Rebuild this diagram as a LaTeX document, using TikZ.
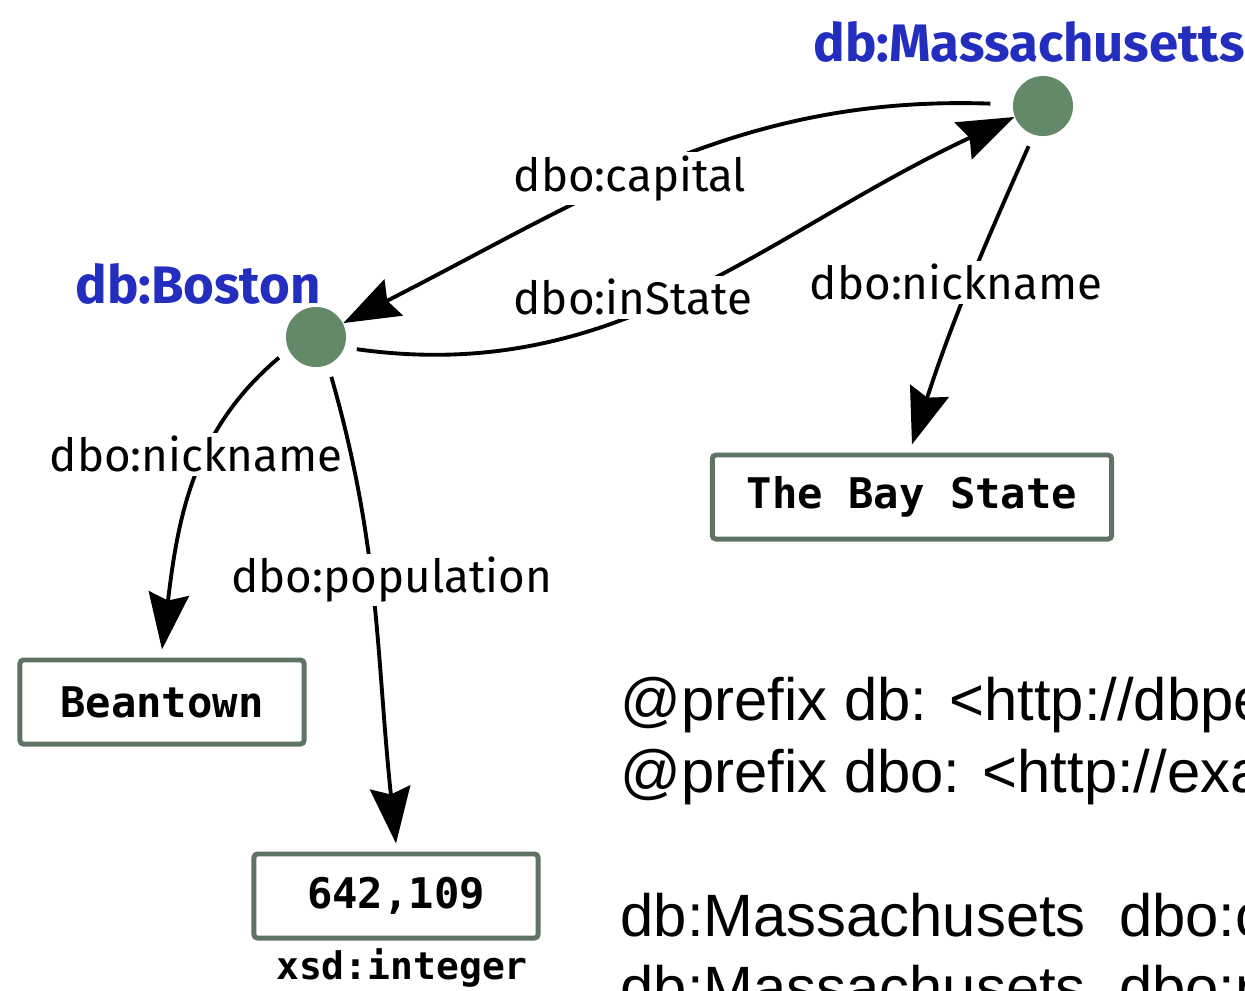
\documentclass[tikz,border=0pt]{standalone}
\usepackage{fontspec}
\usepackage{xcolor}
\usetikzlibrary{arrows.meta}
\newfontfamily\lblfont{Fira Sans}
\newfontfamily\boxfont{DejaVu Sans Mono}
\newfontfamily\txtfont{Liberation Sans}
\definecolor{dotgreen}{RGB}{99,137,104}
\definecolor{uriblue}{RGB}{35,45,190}
\definecolor{boxgray}{RGB}{95,115,100}

\begin{document}
\begin{tikzpicture}[x=0.01cm, y=0.01cm,
		res/.style={circle, fill=dotgreen, minimum size=0.6cm, inner sep=0pt},
		uri/.style={text=uriblue, font=\lblfont\bfseries\fontsize{15}{18}\selectfont},
		lit/.style={draw=boxgray, line width=1.4pt, rounded corners=1pt, fill=white,
			font=\boxfont\bfseries\fontsize{12}{14}\selectfont, inner sep=0pt,
			minimum height=0.84cm, outer sep=3pt},
		lbl/.style={fill=white, font=\lblfont\fontsize{13}{15}\selectfont, inner sep=1pt},
		rel/.style={-{Stealth[length=16pt, width=11.5pt, inset=2pt]}, line width=1.1pt, shorten <=0.12cm},
		ttl/.style={anchor=base west, font=\txtfont\fontsize{17}{20}\selectfont, inner sep=0pt}]
		\useasboundingbox (0,0) rectangle (1245,-990);
		\clip (0,0) rectangle (1245,-990);

		% resources
		\node[res] (boston) at (316,-337) {};
		\node[res] (mass) at (1043,-106) {};
		\node[uri] (bostonname) at (198,-284) {db:Boston};
		\node[uri] (massname) at (1029,-42) {db:Massachusetts};

		% literals
		\node[lit, minimum width=2.84cm] (bean) at (162,-702) {Beantown};
		\node[lit, minimum width=3.99cm] (bay) at (912,-497) {The Bay State};
		\node[lit, minimum width=2.84cm] (pop) at (396,-896) {642,109};
		\node[font=\boxfont\bfseries\fontsize{10.8}{12}\selectfont] (xsd) at (402,-968) {xsd:integer};

		% properties
		\draw[rel, shorten <=0.22cm] (mass.177) to[out=178, in=27]
			node[lbl, pos=0.56] {dbo:capital} (boston.27);
		\draw[rel] (boston.-20) to[out=-8, in=205]
			node[lbl, pos=0.41, yshift=0.17cm] {dbo:inState} (mass.201);
		\draw[rel] (mass.-108) to[out=-114, in=72]
			node[lbl, pos=0.48, xshift=-0.14cm] {dbo:nickname} (bay.north);
		\draw[rel] (boston.205) to[out=-140, in=83]
			node[lbl, pos=0.4, xshift=-0.1cm] {dbo:nickname} (bean.north);
		\draw[rel] (boston.-67) to[out=-74, in=96]
			node[lbl, pos=0.45, xshift=0.2cm] {dbo:population} (pop.north);

		% turtle
		\node[ttl] (pre1) at (620,-720) {@prefix db: <http://dbpedia.org/resource/> .};
		\node[ttl] (pre2) at (620,-792) {@prefix dbo: <http://example.org/ontology/> .};
		\node[ttl] (tri1) at (620,-936) {db:Massachusets\ \ dbo:capital db:Boston .};
		\node[ttl] (tri2) at (620,-1008) {db:Massachusets\ \ dbo:nickname "The Bay State" .};
	\end{tikzpicture}
\end{document}
